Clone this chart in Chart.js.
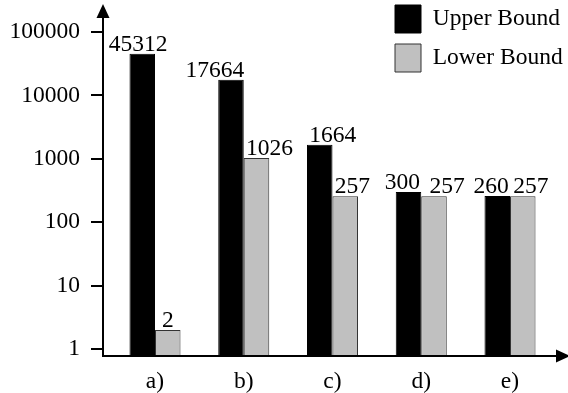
<!DOCTYPE html>
<html>
<head>
<meta charset="utf-8">
<script src="https://cdn.jsdelivr.net/npm/chart.js@4/dist/chart.umd.min.js"></script>
<style>
  html, body { margin: 0; padding: 0; background: #fff; }
  #wrap { width: 568px; height: 393px; }
</style>
</head>
<body>
<div id="wrap"><canvas id="boundChart"></canvas></div>
<script>
/* ======================
DATA
====================== */

const categories = ["a)", "b)", "c)", "d)", "e)"];
const upperBound = [45312, 17664, 1664, 300, 260];
const lowerBound = [2, 1026, 257, 257, 257];
const yTicks = [1, 10, 100, 1000, 10000, 100000];

/* ======================
STYLE
====================== */

const FONT = "'Liberation Serif', 'Times New Roman', serif";
const FONT_SIZE = 23.5;

// small sideways nudges so neighbouring value labels don't collide
const labelNudge = [
  [-4, -16, 13, -6, -6],
  [0, 13, 7, 13, 8],
];

/* ======================
PLUGINS
====================== */

const placeLegend = {
  id: "placeLegend",
  afterLayout(chart) {
    const lg = chart.legend;
    if (!lg) return;
    lg.left = 384;
    lg.top = -6;
    lg.width = 568 - lg.left;
    lg.height = 90;
    lg.right = lg.left + lg.width;
    lg.bottom = lg.top + lg.height;
  },
};

const arrowAxes = {
  id: "arrowAxes",
  afterDatasetsDraw(chart) {
    const { ctx, chartArea } = chart;
    const x0 = chartArea.left;
    const y0 = chartArea.bottom;
    ctx.save();
    ctx.strokeStyle = "#000";
    ctx.fillStyle = "#000";
    ctx.lineWidth = 2;
    ctx.beginPath();
    ctx.moveTo(x0, y0 + 1);
    ctx.lineTo(x0, 14);
    ctx.moveTo(x0 - 1, y0);
    ctx.lineTo(558, y0);
    ctx.stroke();
    // y arrow
    ctx.beginPath();
    ctx.moveTo(x0, 4);
    ctx.lineTo(x0 - 6.5, 18);
    ctx.lineTo(x0 + 6.5, 18);
    ctx.closePath();
    ctx.fill();
    // x arrow
    ctx.beginPath();
    ctx.moveTo(570, y0);
    ctx.lineTo(556, y0 - 6.5);
    ctx.lineTo(556, y0 + 6.5);
    ctx.closePath();
    ctx.fill();
    ctx.restore();
  },
};

const valueLabels = {
  id: "valueLabels",
  afterDatasetsDraw(chart) {
    const ctx = chart.ctx;
    ctx.save();
    ctx.font = FONT_SIZE + "px " + FONT;
    ctx.fillStyle = "#000";
    ctx.textAlign = "center";
    ctx.textBaseline = "alphabetic";
    chart.data.datasets.forEach((ds, di) => {
      chart.getDatasetMeta(di).data.forEach((bar, i) => {
        ctx.fillText(String(ds.data[i].y), bar.x + labelNudge[di][i], bar.y - 3);
      });
    });
    ctx.restore();
  },
};

/* ======================
CHART
====================== */

const toPoints = (vals) => vals.map((v, i) => ({ x: i, y: v }));

new Chart(document.getElementById("boundChart"), {
  type: "bar",
  data: {
    datasets: [
      {
        label: "Upper Bound",
        data: toPoints(upperBound),
        backgroundColor: "#000",
        borderColor: "#000",
        borderWidth: 1,
      },
      {
        label: "Lower Bound",
        data: toPoints(lowerBound),
        backgroundColor: "#c0c0c0",
        borderColor: "#333",
        borderWidth: 1,
      },
    ],
  },
  options: {
    responsive: true,
    maintainAspectRatio: false,
    animation: false,
    layout: { padding: { top: 8, right: 3, left: 0, bottom: 0 } },
    datasets: {
      bar: { categoryPercentage: 0.575, barPercentage: 1 },
    },
    scales: {
      x: {
        type: "linear",
        min: -0.5859,
        max: 4.6197,
        offset: false,
        afterBuildTicks: (s) => { s.ticks = categories.map((c, i) => ({ value: i })); },
        afterFit: (s) => {
          s.height = 37;
          s.paddingLeft = 0;
          s.paddingRight = 0;
        },
        ticks: {
          callback: (v) => categories[v] ?? "",
          font: { family: FONT, size: FONT_SIZE },
          color: "#000",
          padding: 12,
          maxRotation: 0,
        },
        grid: { display: false, drawTicks: false },
        border: { display: false },
      },
      y: {
        type: "logarithmic",
        min: 0.775,
        max: 239000,
        afterBuildTicks: (s) => { s.ticks = yTicks.map((v) => ({ value: v })); },
        afterFit: (s) => {
          s.width = 103;
          s.paddingTop = 0;
          s.paddingBottom = 0;
        },
        ticks: {
          callback: (v) => String(v),
          font: { family: FONT, size: FONT_SIZE },
          color: "#000",
          padding: 11,
        },
        grid: {
          drawOnChartArea: false,
          drawTicks: true,
          tickLength: 12,
          color: "#000",
          lineWidth: 2,
        },
        border: { display: false },
      },
    },
    plugins: {
      legend: {
        position: "chartArea",
        align: "start",
        labels: {
          boxWidth: 26,
          boxHeight: 28,
          padding: 11,
          color: "#000",
          font: { family: FONT, size: FONT_SIZE },
        },
      },
      tooltip: { enabled: false },
    },
  },
  plugins: [placeLegend, arrowAxes, valueLabels],
});
</script>
</body>
</html>
